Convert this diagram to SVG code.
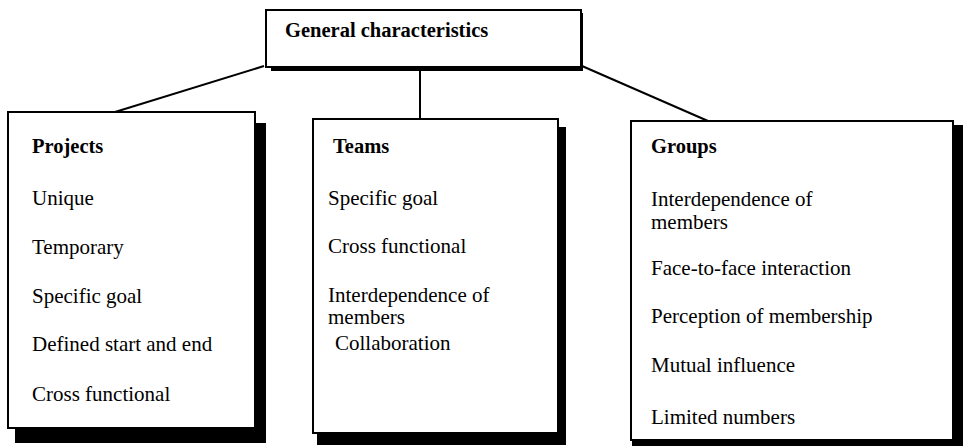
<svg xmlns="http://www.w3.org/2000/svg" width="963" height="446" viewBox="0 0 963 446">
  <style>
    .box { fill: #ffffff; stroke: #000000; stroke-width: 2; }
    .shadow { fill: #000000; }
    .conn { stroke: #000000; stroke-width: 2; fill: none; }
    text { font-family: "Liberation Serif", "Times New Roman", serif; fill: #000000; font-size: 21px; }
    .title { font-weight: bold; font-size: 20.5px; }
  </style>
  <rect width="963" height="446" fill="#ffffff"/>

  <g id="connectors">
    <line class="conn" x1="264" y1="66" x2="115" y2="112"/>
    <line class="conn" x1="420" y1="67" x2="420" y2="119"/>
    <line class="conn" x1="582" y1="66" x2="708" y2="121"/>
  </g>

  <g id="general">
    <rect class="shadow" x="271" y="13" width="312" height="58"/>
    <rect class="box" x="266" y="10" width="315" height="57"/>
    <text class="title" x="285" y="37">General characteristics</text>
  </g>

  <g id="projects">
    <rect class="shadow" x="15" y="123" width="251" height="320"/>
    <rect class="box" x="8" y="112" width="247" height="316"/>
    <text class="title" x="32" y="153">Projects</text>
    <text x="32" y="205">Unique</text>
    <text x="32" y="254">Temporary</text>
    <text x="32" y="303">Specific goal</text>
    <text x="32" y="351">Defined start and end</text>
    <text x="32" y="401">Cross functional</text>
  </g>

  <g id="teams">
    <rect class="shadow" x="317" y="127" width="249" height="318"/>
    <rect class="box" x="313" y="119" width="245" height="314"/>
    <text class="title" x="333" y="153">Teams</text>
    <text x="328" y="205">Specific goal</text>
    <text x="328" y="253">Cross functional</text>
    <text x="328" y="302">Interdependence of</text>
    <text x="328" y="324">members</text>
    <text x="335" y="350">Collaboration</text>
  </g>

  <g id="groups">
    <rect class="shadow" x="632" y="125" width="340" height="321"/>
    <rect class="box" x="631" y="121" width="322" height="319"/>
    <text class="title" x="651" y="153">Groups</text>
    <text x="651" y="206">Interdependence of</text>
    <text x="651" y="229">members</text>
    <text x="651" y="275">Face-to-face interaction</text>
    <text x="651" y="323">Perception of membership</text>
    <text x="651" y="372">Mutual influence</text>
    <text x="651" y="424">Limited numbers</text>
  </g>
</svg>
